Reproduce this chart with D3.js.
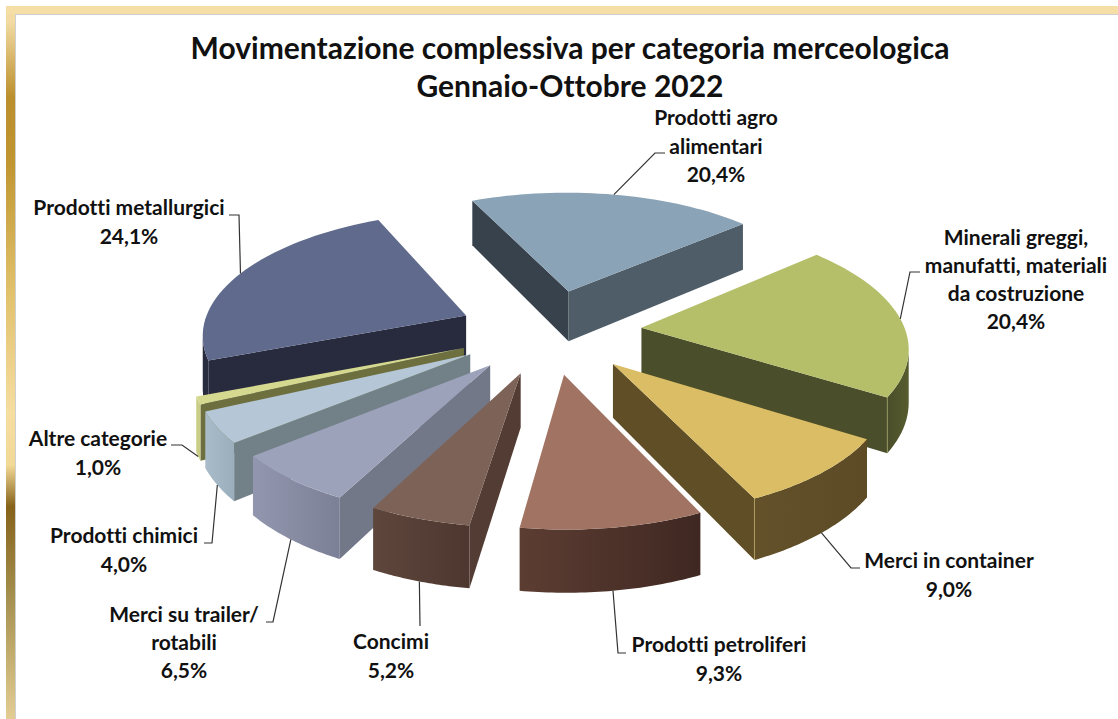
<!DOCTYPE html>
<html>
<head>
<meta charset="utf-8">
<script src="https://cdn.jsdelivr.net/npm/d3@7"></script>
<style>
body { margin: 0; background: #fff; }
text { font-family: Lato, "Open Sans", sans-serif; font-weight: 700; fill: #111; font-variant-ligatures: none; }
</style>
</head>
<body>
<div id="chart"></div>
<script>
const titleLines = ["Movimentazione complessiva per categoria merceologica", "Gennaio-Ottobre 2022"];

const categories = [
  ["Prodotti agro", "alimentari"],
  ["Minerali greggi,", "manufatti, materiali", "da costruzione"],
  ["Merci in container"],
  ["Prodotti petroliferi"],
  ["Concimi"],
  ["Merci su trailer/", "rotabili"],
  ["Prodotti chimici"],
  ["Altre categorie"],
  ["Prodotti metallurgici"]
];
const values = [20.4, 20.4, 9.0, 9.3, 5.2, 6.5, 4.0, 1.0, 24.1];

// top, start wall, end wall, arc wall left, arc wall right
const colors = [
  ["#8aa3b6", "#38424c", "#4e5d68", "#4e5d68", "#4e5d68"],
  ["#b5bf6a", "#4b4e2a", "#4b4e2a", "#4b4e2a", "#565c2e"],
  ["#dbbd65", "#5f4e26", "#5f4e26", "#625129", "#5c4b25"],
  ["#a17362", "#4c3129", "#4c3129", "#5c3d32", "#3f2822"],
  ["#7d6357", "#533c34", "#6a5650", "#5e463c", "#4d372f"],
  ["#9da2bb", "#737889", "#737889", "#9297af", "#7c8096"],
  ["#b5c7d6", "#728088", "#728088", "#aabcc9", "#9aaebb"],
  ["#d5d98f", "#6e6f3f", "#6e6f3f", "#c9cd85", "#c9cd85"],
  ["#5f6a8c", "#282a3e", "#282a3e", "#282a3e", "#282a3e"]
];

// label anchor x, first baseline, line height, then leader end and elbow
const labelLayout = [
  {x: 716, y: 125, lh: 28.5, end: [665, 153], elbow: [655, 153], side: "top"},
  {x: 1016, y: 245, lh: 28, end: [920, 272], elbow: [910, 272], side: "top"},
  {x: 949, y: 568, lh: 29, end: [860, 568], elbow: [851, 568], side: "bottom"},
  {x: 719, y: 652, lh: 28.5, end: [626, 653], elbow: [618, 653], side: "bottom"},
  {x: 391, y: 649, lh: 29, end: [420, 626], elbow: [420, 626], side: "bottom"},
  {x: 184, y: 622, lh: 28, end: [266, 622], elbow: [273, 622], side: "bottom"},
  {x: 124, y: 543, lh: 29, end: [204, 543], elbow: [212, 543], side: "bottom"},
  {x: 98, y: 446, lh: 28.5, end: [171, 445], elbow: [182, 445], side: "bottom"},
  {x: 129, y: 215, lh: 28.5, end: [229, 215], elbow: [239, 215], side: "top"}
];

const width = 1118, height = 719;
const cx = 550, cy = 331, radius = 264, explode = 92, depth = 52;
const camera = 2000, tilt = 0.46;
const startAngle = -24.6 * Math.PI / 180;

// ground plane to screen, with perspective
function project(px, py, h) {
  const s = camera / (camera - py);
  return [cx + px * s, cy + (py * tilt - h) * s];
}

const svg = d3.select("#chart").append("svg")
  .attr("width", width)
  .attr("height", height);

// frame
const defs = svg.append("defs");
const frameGrad = defs.append("linearGradient")
  .attr("id", "frameGrad")
  .attr("x1", 0).attr("y1", 0).attr("x2", 0).attr("y2", 1);
[[0.02, "#f3dca4"], [0.128, "#bb8f2c"], [0.22, "#c09630"], [0.4, "#e1c16c"], [0.57, "#f6dda0"],
 [0.644, "#f3d996"], [0.702, "#86621a"], [0.83, "#a5904f"], [1, "#e3cd93"]]
  .forEach(d => frameGrad.append("stop").attr("offset", d[0]).attr("stop-color", d[1]));

svg.append("rect").attr("x", 6).attr("y", 6).attr("width", 9).attr("height", height - 6)
  .attr("fill", "url(#frameGrad)");
svg.append("rect").attr("x", 6).attr("y", 6).attr("width", width - 6).attr("height", 8)
  .attr("fill", "#f6dfa6");
svg.append("rect").attr("x", 15).attr("y", 14).attr("width", width - 15).attr("height", 1)
  .attr("fill", "#cfcfcf");
svg.append("rect").attr("x", 15).attr("y", 14).attr("width", 1).attr("height", height - 14)
  .attr("fill", "#cfcfcf");

// title
svg.selectAll("text.title")
  .data(titleLines)
  .join("text")
  .attr("class", "title")
  .attr("x", 570)
  .attr("y", (d, i) => 59 + i * 38)
  .attr("text-anchor", "middle")
  .attr("font-size", 30)
  .text(d => d);

// pie
const pie = d3.pie()
  .value(d => d)
  .sort(null)
  .startAngle(startAngle)
  .endAngle(startAngle + 2 * Math.PI);

const slices = pie(values).map((d, i) => {
  const mid = (d.startAngle + d.endAngle) / 2;
  const ox = explode * Math.sin(mid);
  const oy = -explode * Math.cos(mid);
  const steps = d3.range(0, 41).map(k => d.startAngle + (d.endAngle - d.startAngle) * k / 40);
  const ground = steps.map(a => [ox + radius * Math.sin(a), oy - radius * Math.cos(a)]);
  return {i, mid, ox, oy, ground};
});

const line = d3.line();

function wall(g, pts, fill) {
  const tops = pts.map(p => project(p[0], p[1], 0));
  const bottoms = pts.map(p => project(p[0], p[1], -depth)).reverse();
  g.append("path").attr("d", line(tops.concat(bottoms)) + "Z").attr("fill", fill);
}

// clockwise seen from above, so a wall faces us when the edge runs leftward
function facing(a, b) {
  return project(b[0], b[1], 0)[0] < project(a[0], a[1], 0)[0];
}

// back to front
const order = slices.slice().sort((a, b) => d3.ascending(-Math.cos(a.mid), -Math.cos(b.mid)));

order.forEach(s => {
  const g = svg.append("g");
  const c = colors[s.i];
  const apex = [s.ox, s.oy];
  const grad = defs.append("linearGradient").attr("id", "arc" + s.i);
  grad.append("stop").attr("offset", 0).attr("stop-color", c[3]);
  grad.append("stop").attr("offset", 1).attr("stop-color", c[4]);

  if (facing(apex, s.ground[0])) wall(g, [apex, s.ground[0]], c[1]);
  const front = s.ground.filter((p, k) => {
    const prev = s.ground[k - 1], next = s.ground[k + 1];
    return (next && facing(p, next)) || (prev && facing(prev, p));
  });
  if (front.length > 1) wall(g, front, "url(#arc" + s.i + ")");
  const last = s.ground[s.ground.length - 1];
  const beforeLast = s.ground[s.ground.length - 2];
  if (facing(last, apex)) wall(g, [last, apex], c[2]);

  // faint light edge where the arc wall meets the end wall
  if (facing(beforeLast, last) && facing(last, apex)) {
    g.append("path")
      .attr("d", line([project(last[0], last[1], 0), project(last[0], last[1], -depth)]))
      .attr("stroke", c[0])
      .attr("stroke-opacity", 0.5)
      .attr("stroke-width", 1);
  }

  const top = [apex].concat(s.ground).map(p => project(p[0], p[1], 0));
  g.append("path").attr("d", line(top) + "Z").attr("fill", c[0]);
});

// leaders
labelLayout.forEach((l, i) => {
  const s = slices[i];
  const p = [s.ox + radius * Math.sin(s.mid), s.oy - radius * Math.cos(s.mid)];
  const start = project(p[0], p[1], l.side === "top" ? 0 : -depth);
  svg.append("path")
    .attr("d", line([start, l.elbow, l.end]))
    .attr("fill", "none")
    .attr("stroke", "#333")
    .attr("stroke-width", 1.2);
});

// labels
categories.forEach((names, i) => {
  const l = labelLayout[i];
  const pct = values[i].toFixed(1).replace(".", ",") + "%";
  svg.append("g").selectAll("text")
    .data(names.concat([pct]))
    .join("text")
    .attr("x", l.x)
    .attr("y", (d, k) => l.y + k * l.lh)
    .attr("text-anchor", "middle")
    .attr("font-size", 21)
    .text(d => d);
});
</script>
</body>
</html>
